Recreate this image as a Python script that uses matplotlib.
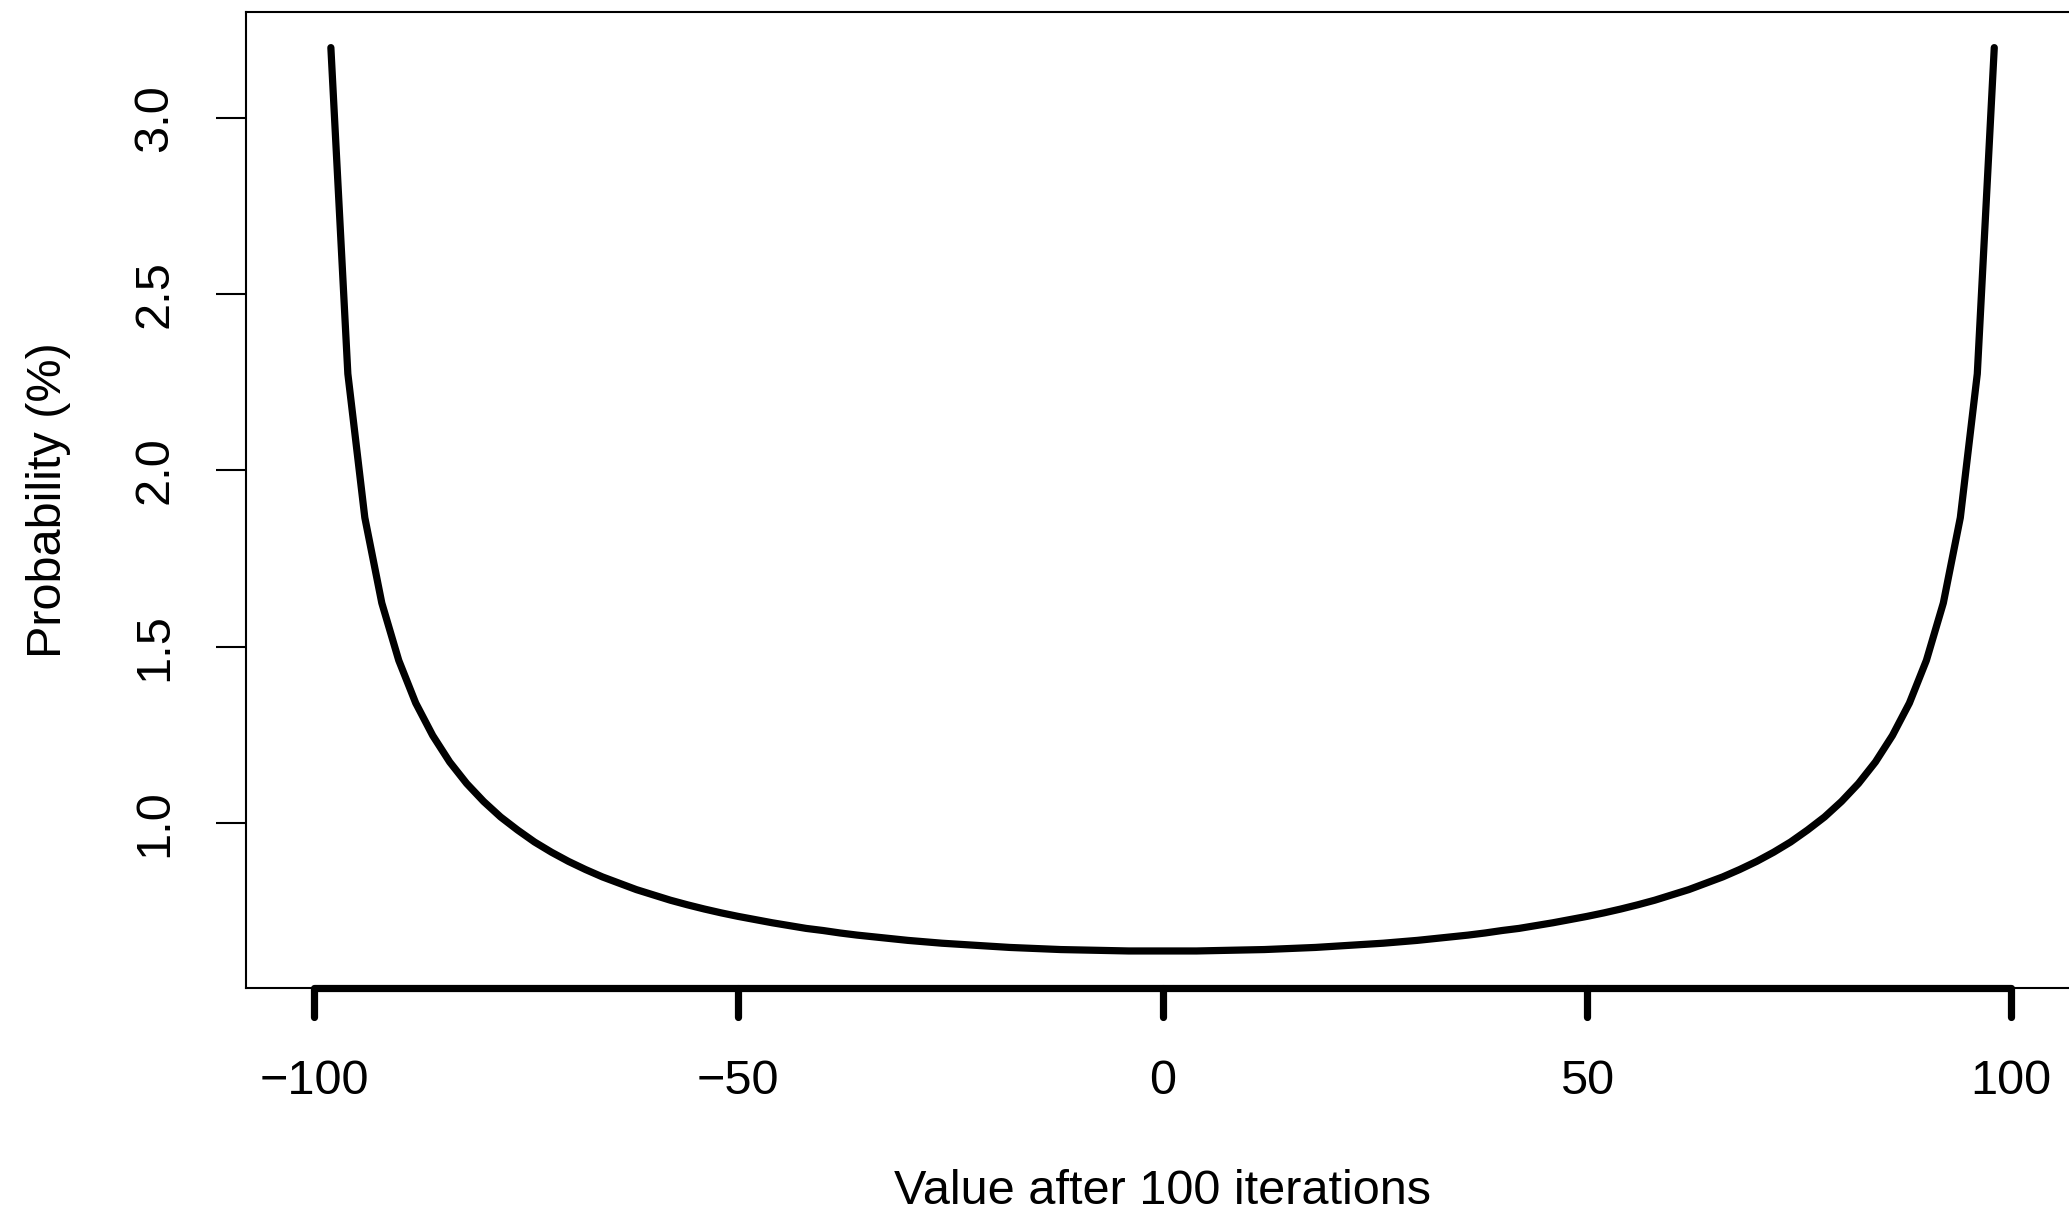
"""Probability of each final value after 100 steps of the walk."""

import matplotlib.pyplot as plt
import matplotlib.transforms as mtransforms


FINAL_VALUE = [
    -98, -96, -94, -92, -90, -88, -86, -84, -82, -80,
    -78, -76, -74, -72, -70, -68, -66, -64, -62, -60,
    -58, -56, -54, -52, -50, -48, -46, -44, -42, -40,
    -38, -36, -34, -32, -30, -28, -26, -24, -22, -20,
    -18, -16, -14, -12, -10, -8, -6, -4, -2, 0,
    2, 4, 6, 8, 10, 12, 14, 16, 18, 20,
    22, 24, 26, 28, 30, 32, 34, 36, 38, 40,
    42, 44, 46, 48, 50, 52, 54, 56, 58, 60,
    62, 64, 66, 68, 70, 72, 74, 76, 78, 80,
    82, 84, 86, 88, 90, 92, 94, 96, 98,
]
PROB_PCT = [
    3.199, 2.274, 1.866, 1.624, 1.461, 1.340, 1.248, 1.173, 1.112, 1.061,
    1.017, 0.980, 0.946, 0.917, 0.891, 0.868, 0.847, 0.829, 0.811, 0.796,
    0.781, 0.768, 0.756, 0.745, 0.735, 0.726, 0.717, 0.709, 0.701, 0.695,
    0.688, 0.682, 0.677, 0.672, 0.667, 0.663, 0.659, 0.656, 0.653, 0.650,
    0.647, 0.645, 0.643, 0.641, 0.640, 0.639, 0.638, 0.637, 0.637, 0.637,
    0.637, 0.637, 0.638, 0.639, 0.640, 0.641, 0.643, 0.645, 0.647, 0.650,
    0.653, 0.656, 0.659, 0.663, 0.667, 0.672, 0.677, 0.682, 0.688, 0.695,
    0.701, 0.709, 0.717, 0.726, 0.735, 0.745, 0.756, 0.768, 0.781, 0.796,
    0.811, 0.829, 0.847, 0.868, 0.891, 0.917, 0.946, 0.980, 1.017, 1.061,
    1.112, 1.173, 1.248, 1.340, 1.461, 1.624, 1.866, 2.274, 3.199,
]
X_TICKS = [-100, -50, 0, 50, 100]
Y_TICKS = [1.0, 1.5, 2.0, 2.5, 3.0]

INK = "black"
THICK = 5.2


def main():
    plt.rcParams.update({
        "font.family": ["Liberation Sans", "DejaVu Sans"],
        "font.size": 35,
    })
    fig = plt.figure(figsize=(20.69, 12.13), dpi=100)
    ax = fig.add_axes([0.1189, 0.1855, 0.886, 0.8046])

    ax.plot(FINAL_VALUE, PROB_PCT, color=INK, linewidth=THICK,
            solid_capstyle="round", solid_joinstyle="round")

    ax.set_xlim(-108, 108)
    ax.set_ylim(0.532, 3.30)

    for side in ["top", "bottom", "left", "right"]:
        ax.spines[side].set_linewidth(1.5)
        ax.spines[side].set_color(INK)

    # thick x axis line with rounded tick marks, R style
    trans = mtransforms.blended_transform_factory(ax.transData, ax.transAxes)
    ax.plot([X_TICKS[0], X_TICKS[-1]], [0, 0], transform=trans, color=INK,
            linewidth=THICK, solid_capstyle="butt", clip_on=False)
    for t in X_TICKS:
        ax.plot([t, t], [0, -0.030], transform=trans, color=INK,
                linewidth=THICK, solid_capstyle="round", clip_on=False)
    ax.set_xticks(X_TICKS, [str(t).replace("-", "\u2212") for t in X_TICKS])
    ax.tick_params(axis="x", length=0, pad=51)

    ax.set_yticks(Y_TICKS, [f"{v:.1f}" for v in Y_TICKS])
    ax.tick_params(axis="y", length=21.5, width=1.5, pad=28, direction="out")
    for label in ax.get_yticklabels():
        label.set_rotation(90)
        label.set_va("center")

    ax.set_xlabel("Value after 100 iterations", labelpad=47)
    ax.set_ylabel("Probability (%)", labelpad=44)

    fig.savefig("out.png", dpi=100, facecolor="white")
    plt.close(fig)


if __name__ == "__main__":
    main()
